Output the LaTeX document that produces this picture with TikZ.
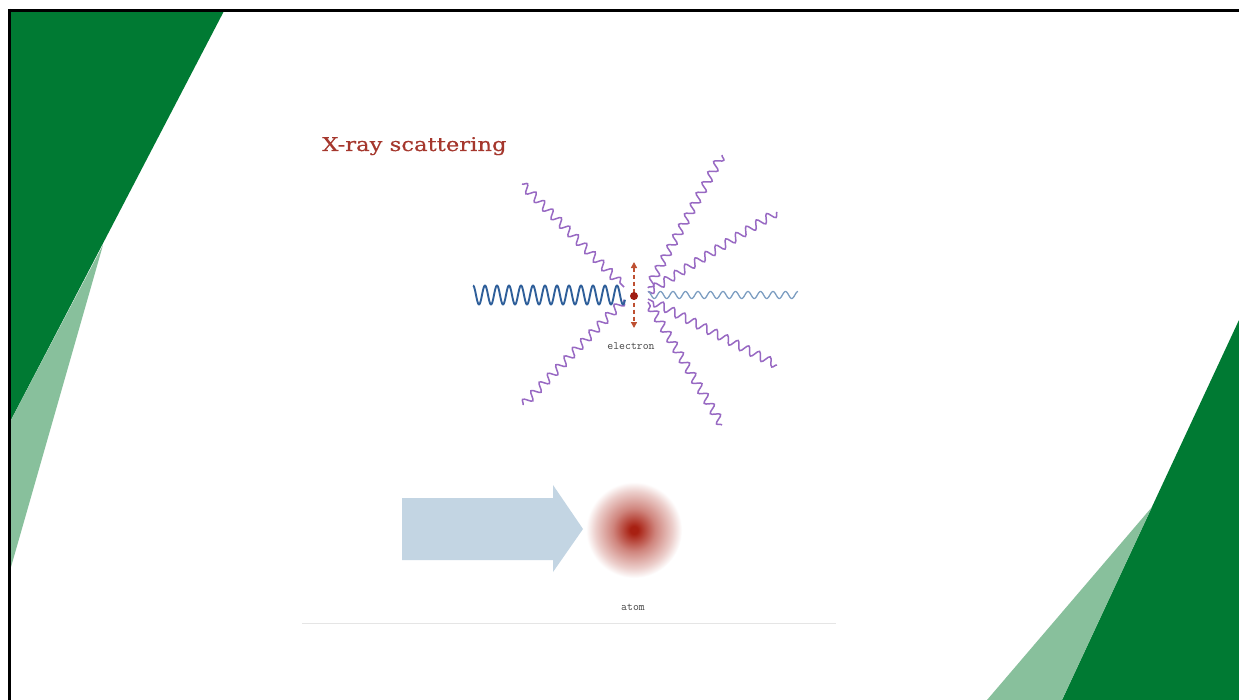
\documentclass[tikz,border=0pt]{standalone}
\usepackage{fontspec}
\usetikzlibrary{decorations.pathmorphing,arrows.meta}
\newfontfamily\titlefont[FakeStretch=1.2,FakeBold=0.4]{DejaVu Serif}
\definecolor{darkgreen}{RGB}{0,122,51}
\definecolor{lightgreen}{RGB}{136,192,156}
\definecolor{titlered}{RGB}{165,55,45}
\definecolor{inwave}{RGB}{47,95,154}
\definecolor{outwave}{RGB}{124,157,193}
\definecolor{scatter}{RGB}{152,105,195}
\definecolor{eldot}{RGB}{160,30,20}
\definecolor{elarrow}{RGB}{190,80,50}
\definecolor{beam}{RGB}{195,213,227}
\definecolor{atomred}{RGB}{168,32,18}
\definecolor{labelgray}{RGB}{70,70,70}
% glow of the atom: the path edge sits at 25bp of the shading
\pgfdeclareradialshading{atomglow}{\pgfpoint{0bp}{0bp}}{%
  color(0bp)=(atomred); color(2bp)=(atomred);
  color(11bp)=(atomred!55!white); color(20bp)=(atomred!22!white);
  color(25bp)=(white); color(50bp)=(white)}
\begin{document}
\begin{tikzpicture}[x=1bp,y=-1bp,
  scatterwave/.style={draw=scatter,line width=1.5bp,
    decorate,decoration={snake,segment length=12bp,amplitude=4.2bp}},
  smalllabel/.style={font=\ttfamily\fontsize{11.5}{13}\selectfont,text=labelgray,inner sep=0pt}]
\useasboundingbox (0,0) rectangle (1239,700);
\fill[white] (0,0) rectangle (1239,700);

% slide corner decorations
\fill[darkgreen] (11,11) -- (224,11) -- (11,420) -- cycle;
\fill[lightgreen] (103,245) -- (11,420) -- (11,567) -- cycle;
\fill[darkgreen] (1239,320) -- (1062,700) -- (1239,700) -- cycle;
\fill[lightgreen] (1152,507) -- (987,700) -- (1062,700) -- cycle;

% frame
\draw[line width=3bp] (8,10.5) -- (1239,10.5);
\draw[line width=3bp] (9.5,9) -- (9.5,700);

% title
\node[anchor=base west,inner sep=0pt,text=titlered,
  font=\titlefont\fontsize{19}{21}\selectfont] (title) at (322,151) {X-ray scattering};

% scattered waves
\coordinate (s1) at (522,184);  \coordinate (e1) at (624,287);
\coordinate (s2) at (523,405);  \coordinate (e2) at (624,300);
\coordinate (s3) at (722,155);  \coordinate (e3) at (648,288);
\coordinate (s4) at (777,212);  \coordinate (e4) at (648,292);
\coordinate (s5) at (777,365);  \coordinate (e5) at (648,299);
\coordinate (s6) at (722,425);  \coordinate (e6) at (648,302);
\foreach \i in {1,...,6}{\draw[scatterwave] (s\i) -- (e\i);}

% incoming and transmitted waves
\draw[inwave,line width=1.9bp,line join=round]
  plot[domain=473:625,samples=400] (\x,{295-9.5*cos((\x-473)/12*360)});
\draw[outwave,line width=1.3bp,line join=round]
  plot[domain=648:798,samples=400] (\x,{295-3.5*cos((\x-648)/12.5*360)});

% electron oscillating
\coordinate (up) at (634,262);
\coordinate (down) at (634,328);
\draw[elarrow,line width=1.4bp,dash pattern=on 4bp off 3bp,
  {Triangle[length=6bp,width=6bp]}-{Triangle[length=6bp,width=6bp]}] (up) -- (down);
\node[circle,fill=eldot,minimum size=8bp,inner sep=0pt] (electron) at (634,296) {};
\node[smalllabel] (elabel) at (631,346) {electron};

% incident beam and atom
\fill[beam] (402,498) -- (553,498) -- (553,485) -- (583,529) -- (553,572)
  -- (553,560) -- (402,560) -- cycle;
\shade[shading=atomglow] (634,530) circle[radius=48];
\node[smalllabel] (alabel) at (633,607) {atom};

\draw[black!10,line width=1bp] (302,623) -- (836,623);
\end{tikzpicture}
\end{document}
